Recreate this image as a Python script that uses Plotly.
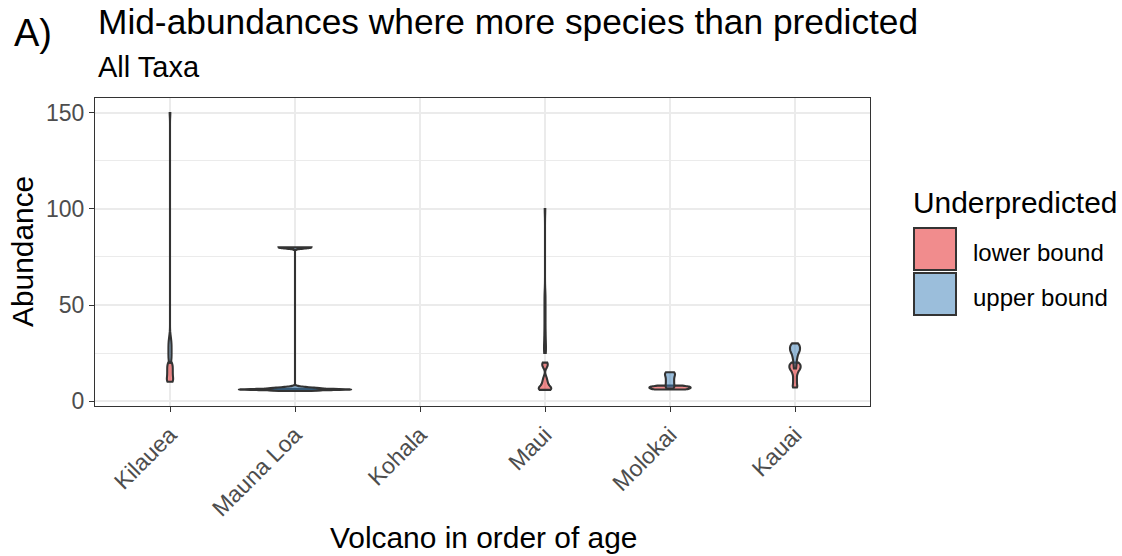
import plotly.graph_objects as go

# ---- data -------------------------------------------------------------
volcanoes = ["Kilauea", "Mauna Loa", "Kohala", "Maui", "Molokai", "Kauai"]
bounds = ["lower bound", "upper bound"]
y_ticks = [0, 50, 100, 150]

# Abundances of species that were under-predicted (Kohala has none)
kilauea_lower = [10, 10.5, 11, 12, 13, 14, 15, 16, 17, 18, 19, 20]
kilauea_upper = [20, 21, 22, 23, 24, 25, 26, 27, 28, 29, 30, 31, 32, 34, 150]
mauna_loa_lower = [5.6, 5.8, 5.9, 6.0, 6.0, 6.1, 6.2, 6.4]
mauna_loa_upper = [5.2, 5.5, 5.8, 6.0, 6.1, 6.3, 6.5, 6.8, 7.2, 79.8, 80, 80]
maui_lower = [5.8, 6, 6, 6.2, 6.5, 7, 7.5, 8, 9, 10, 11, 12.5, 17.5, 18.5, 19.5, 20]
maui_upper = [25, 26, 28, 30, 33, 36, 40, 44, 48, 52, 56, 100]
molokai_lower = [6, 6.3, 6.6, 7, 7.3, 7.6, 8]
molokai_upper = [6.5, 7, 8, 9, 10, 11, 12, 13, 14, 14.5, 15]
kauai_lower = [7, 8, 9.5, 11, 12.5, 14, 15, 16, 16.5, 17, 17.5, 18, 18.5, 19, 19.5, 20]
kauai_upper = [17, 19, 20.5, 22, 23, 24, 25, 25.5, 26, 26.5, 27, 27.5, 28, 28.5,
               29, 29.5, 30]

series = [
    ("Kilauea", "lower bound", kilauea_lower),
    ("Kilauea", "upper bound", kilauea_upper),
    ("Mauna Loa", "lower bound", mauna_loa_lower),
    ("Mauna Loa", "upper bound", mauna_loa_upper),
    ("Maui", "lower bound", maui_lower),
    ("Maui", "upper bound", maui_upper),
    ("Molokai", "lower bound", molokai_lower),
    ("Molokai", "upper bound", molokai_upper),
    ("Kauai", "lower bound", kauai_lower),
    ("Kauai", "upper bound", kauai_upper),
]

# ---- styling ----------------------------------------------------------
# (kernel bandwidth, full violin width in category units)
violin_style = {
    ("Kilauea", "lower bound"): (1.5, 0.05),
    ("Kilauea", "upper bound"): (2.0, 0.025),
    ("Mauna Loa", "lower bound"): (0.25, 0.9),
    ("Mauna Loa", "upper bound"): (0.5, 0.5),
    ("Maui", "lower bound"): (1.2, 0.1),
    ("Maui", "upper bound"): (3.0, 0.015),
    ("Molokai", "lower bound"): (0.5, 0.33),
    ("Molokai", "upper bound"): (1.2, 0.08),
    ("Kauai", "lower bound"): (1.0, 0.09),
    ("Kauai", "upper bound"): (1.2, 0.08),
}
fills = {"lower bound": "rgba(228,26,28,0.5)", "upper bound": "rgba(55,126,184,0.5)"}
key_fills = {"lower bound": "#F18C8D", "upper bound": "#9BBEDB"}
outline = "#333333"
grid = "#EBEBEB"
font = "Liberation Sans, Arial, sans-serif"

W, H = 1122, 556
ML, MR, MT, MB = 95, 252, 98, 150
PW, PH = W - ML - MR, H - MT - MB


def px(x):
    return (x - ML) / PW


def py(y):
    return (H - MB - y) / PH


fig = go.Figure()
for volcano, bound, values in series:
    bw, width = violin_style[(volcano, bound)]
    fig.add_trace(go.Violin(
        x=[volcano] * len(values), y=values, name=bound,
        legendgroup=bound, showlegend=False,
        scalegroup=f"{volcano}-{bound}", scalemode="width",
        spanmode="hard", bandwidth=bw, width=width,
        points=False, box_visible=False, meanline_visible=False,
        fillcolor=fills[bound], line=dict(color=outline, width=2.1),
        hoverinfo="skip",
    ))

annotations = [
    dict(text="A)", x=px(12), y=py(33), xanchor="left", yanchor="middle",
         font=dict(size=38, color="black")),
    dict(text="Mid-abundances where more species than predicted", x=px(96), y=py(21),
         xanchor="left", yanchor="middle", font=dict(size=35.3, color="black")),
    dict(text="All Taxa", x=px(96), y=py(67), xanchor="left", yanchor="middle",
         font=dict(size=29, color="black")),
    dict(text="Abundance", x=px(22), y=py(252), xanchor="center", yanchor="middle",
         textangle=-90, font=dict(size=29.9, color="black")),
    dict(text="Volcano in order of age", x=px(483), y=py(537), xanchor="center",
         yanchor="middle", font=dict(size=29.9, color="black")),
    dict(text="Underpredicted", x=px(911), y=py(202), xanchor="left", yanchor="middle",
         font=dict(size=29.9, color="black")),
]

shapes = []
key_top = 228
for i, bound in enumerate(bounds):
    y0 = key_top + i * 45
    shapes.append(dict(type="rect", xref="paper", yref="paper",
                       x0=px(914), x1=px(956), y0=py(y0), y1=py(y0 + 42),
                       fillcolor=key_fills[bound], line=dict(color=outline, width=2)))
    annotations.append(dict(text=bound, x=px(971), y=py(y0 + 24), xanchor="left",
                            yanchor="middle", font=dict(size=24, color="black")))

for a in annotations:
    a.update(xref="paper", yref="paper", showarrow=False)

fig.update_layout(
    width=W, height=H,
    margin=dict(l=ML, r=MR, t=MT, b=MB, autoexpand=False),
    paper_bgcolor="white", plot_bgcolor="white",
    font=dict(family=font, color="black"),
    violinmode="overlay", violingap=0, violingroupgap=0,
    showlegend=False,
    annotations=annotations, shapes=shapes,
    xaxis=dict(
        type="category", categoryorder="array", categoryarray=volcanoes,
        tickvals=volcanoes, range=[-0.6, len(volcanoes) - 0.4],
        tickangle=-45, tickfont=dict(size=23, color="#4D4D4D"),
        ticks="outside", ticklen=5, tickcolor=outline, tickwidth=1.3,
        showgrid=True, gridcolor=grid, gridwidth=1.5,
        showline=True, linecolor=outline, linewidth=1.3, mirror=True,
        zeroline=False, automargin=False,
    ),
    yaxis=dict(
        range=[-2.6, 157.8], tickvals=y_ticks,
        tickfont=dict(size=23, color="#4D4D4D"),
        ticks="outside", ticklen=5, tickcolor=outline, tickwidth=1.3,
        showgrid=True, gridcolor=grid, gridwidth=1.5,
        minor=dict(dtick=25, tick0=0, showgrid=True, gridcolor=grid, gridwidth=0.8),
        showline=True, linecolor=outline, linewidth=1.3, mirror=True,
        zeroline=False, automargin=False,
    ),
)

fig.write_html("out.html")
